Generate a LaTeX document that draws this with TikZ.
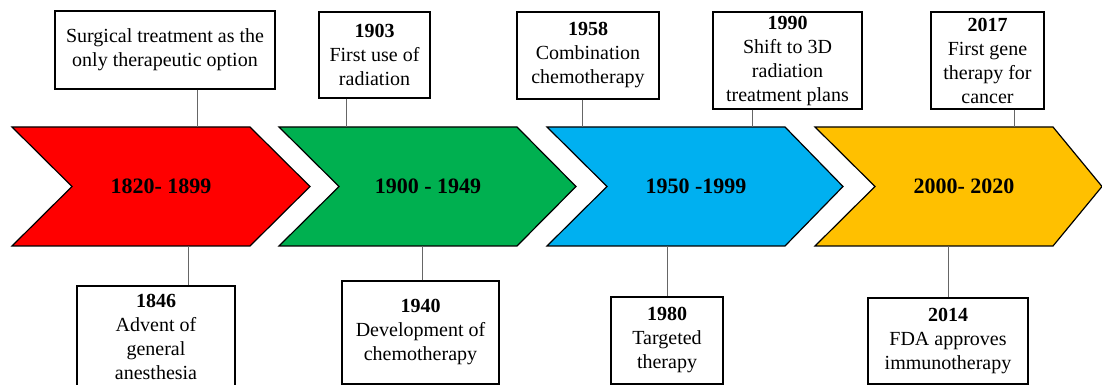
\documentclass[tikz,border=0pt]{standalone}
\usepackage{fontspec}
\setmainfont{Liberation Serif}
\usepackage{xcolor}
\usetikzlibrary{positioning, calc}
\definecolor{perRed}{HTML}{FF0000}
\definecolor{perGreen}{HTML}{00B050}
\definecolor{perBlue}{HTML}{00B0F0}
\definecolor{perGold}{HTML}{FFC000}
\begin{document}
\begin{tikzpicture}[
	x=1pt, y=1pt,
	% Styles
	event/.style = {draw, rectangle, line width=1.2pt, fill=white, align=center, inner sep=0pt, font=\fontsize{20}{24}\selectfont},
	period/.style = {font=\fontsize{22}{26}\selectfont\bfseries},
	arrowband/.style = {draw, line width=1.2pt},
	link/.style = {draw=black!60, line width=0.9pt}
	]
	\useasboundingbox (0,0) rectangle (1102,385);
	
	% Chevrons for the four periods
	\foreach \x/\tip/\col/\lab/\n in {12/60/perRed/{1820- 1899}/1, 279/59/perGreen/{1900 - 1949}/2, 547/58/perBlue/{1950 -1999}/3, 815/49/perGold/{2000- 2020}/4}
	{
		\draw[arrowband, fill=\col] (\x,258) -- ++(238,0) -- ++(\tip,-59.5) -- ++(-\tip,-59.5) -- ++(-238,0) -- ++(60,59.5) -- cycle;
		\node[period] (p\n) at (\x+149,198.5) {\lab};
		\coordinate (top\n) at (\x,258);
		\coordinate (bot\n) at (\x,139);
	}
	
	% Top row: events above the chevrons
	\node[event, minimum width=220pt, minimum height=78pt] (surg) at (165,335) {Surgical treatment as the\\only therapeutic option};
	\node[event, minimum width=111pt, minimum height=86pt] (e1903) at (374.5,330) {\textbf{1903}\\First use of\\radiation};
	\node[event, minimum width=142pt, minimum height=87pt] (e1958) at (588,329.5) {\textbf{1958}\\Combination\\chemotherapy};
	\node[event, minimum width=149pt, minimum height=97pt] (e1990) at (787.5,324.5) {\textbf{1990}\\Shift to 3D\\radiation\\treatment plans};
	\node[event, minimum width=113pt, minimum height=97pt] (e2017) at (987.5,324.5) {\textbf{2017}\\First gene\\therapy for\\cancer};
	
	% Bottom row: events below the chevrons
	\node[event, minimum width=158pt, minimum height=102pt] (e1846) at (156,48) {\textbf{1846}\\Advent of\\general\\anesthesia};
	\node[event, minimum width=157pt, minimum height=103pt] (e1940) at (420.5,52.5) {\textbf{1940}\\Development of\\chemotherapy};
	\node[event, minimum width=112pt, minimum height=87pt] (e1980) at (667,44.5) {\textbf{1980}\\Targeted\\therapy};
	\node[event, minimum width=160pt, minimum height=86pt] (e2014) at (948,44) {\textbf{2014}\\FDA approves\\immunotherapy};
	
	% Connectors
	\coordinate (a1) at ([xshift=32pt]surg.south);
	\coordinate (a2) at ([xshift=-28.5pt]e1903.south);
	\coordinate (a3) at ([xshift=-6pt]e1958.south);
	\coordinate (a4) at ([xshift=-35.5pt]e1990.south);
	\coordinate (a5) at ([xshift=26.5pt]e2017.south);
	\coordinate (b1) at ([xshift=32pt]e1846.north);
	\coordinate (b2) at ([xshift=1.5pt]e1940.north);
	\draw[link] (a1) -- (a1 |- top1);
	\draw[link] (a2) -- (a2 |- top2);
	\draw[link] (a3) -- (a3 |- top3);
	\draw[link] (a4) -- (a4 |- top3);
	\draw[link] (a5) -- (a5 |- top4);
	\draw[link] (b1) -- (b1 |- bot1);
	\draw[link] (b2) -- (b2 |- bot2);
	\draw[link] (e1980.north) -- (e1980.north |- bot3);
	\draw[link] (e2014.north) -- (e2014.north |- bot4);
	
\end{tikzpicture}
\end{document}
